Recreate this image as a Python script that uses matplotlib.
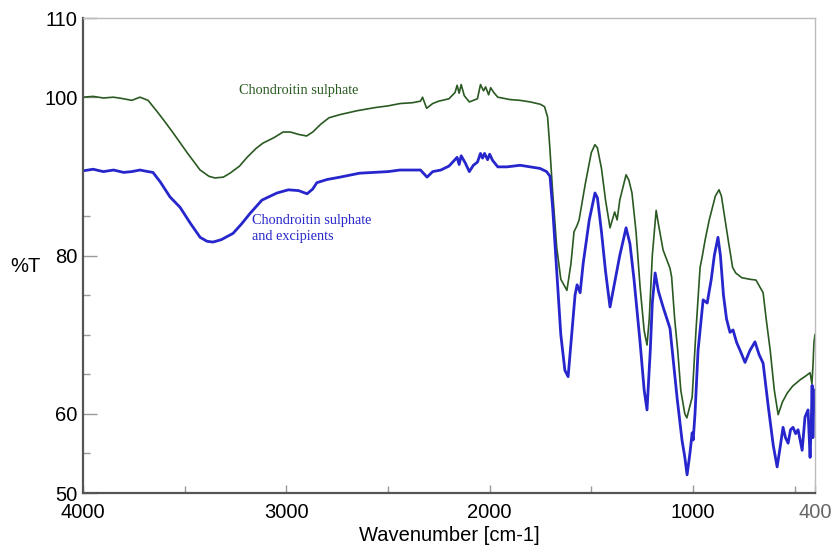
import matplotlib.pyplot as plt
from matplotlib.ticker import FixedLocator

# FTIR spectra, %T vs wavenumber
wn_cs = [4000, 3950, 3900, 3850, 3800, 3760, 3720, 3680, 3636, 3600, 3557, 3488,
         3424, 3380, 3351, 3310, 3277, 3230, 3193, 3150, 3115, 3060, 3016, 2980,
         2940, 2900, 2870, 2830, 2790, 2736, 2650, 2560, 2500, 2440, 2380, 2340,
         2330, 2310, 2280, 2250, 2200, 2170, 2160, 2150, 2140, 2125, 2100, 2080,
         2060, 2045, 2030, 2020, 2005, 1995, 1980, 1960, 1940, 1900, 1850, 1800,
         1750, 1730, 1715, 1705, 1690, 1670, 1650, 1620, 1600, 1585, 1570, 1560,
         1530, 1500, 1482, 1470, 1450, 1430, 1408, 1385, 1373, 1360, 1329, 1315,
         1300, 1280, 1260, 1240, 1226, 1215, 1200, 1181, 1170, 1147, 1113, 1105,
         1090, 1075, 1060, 1040, 1030, 1015, 1004, 985, 965, 955, 940, 920, 890,
         872, 860, 845, 827, 805, 790, 760, 720, 690, 655, 640, 620, 600, 581,
         560, 537, 510, 473, 450, 424, 415, 410, 405, 400]
t_cs = [100.0, 100.1, 99.9, 100.0, 99.8, 99.6, 100.0, 99.6, 98.2, 97.0, 95.5, 93.0,
        90.8, 90.0, 89.8, 89.9, 90.4, 91.3, 92.4, 93.5, 94.2, 94.9, 95.6, 95.6,
        95.3, 95.1, 95.6, 96.6, 97.4, 97.8, 98.3, 98.7, 98.9, 99.2, 99.3, 99.5,
        100.0, 98.6, 99.2, 99.5, 99.8, 100.6, 101.5, 100.5, 101.6, 100.2, 99.4, 99.6,
        99.8, 101.6, 100.8, 101.3, 100.3, 101.2, 100.6, 100.0, 99.9, 99.7, 99.6, 99.4,
        99.1, 98.8, 97.5, 94.0, 88.0, 81.0, 77.0, 75.6, 79.0, 83.0, 83.8, 84.5,
        89.0, 93.0, 94.0, 93.6, 91.0, 87.0, 83.5, 85.5, 84.5, 87.0, 90.2, 89.5,
        87.9, 83.0, 76.0, 70.5, 68.7, 72.0, 80.0, 85.7, 84.0, 80.7, 78.4, 77.3,
        72.0, 68.0, 63.0, 60.0, 59.5, 61.0, 62.1, 70.6, 78.5, 79.8, 82.0, 84.5, 87.5,
        88.3, 87.5, 85.0, 82.0, 78.5, 77.8, 77.2, 77.0, 76.9, 75.3, 72.0, 68.0, 63.0, 59.9,
        61.5, 62.6, 63.5, 64.3, 64.7, 65.2, 63.8, 66.0, 69.0, 70.0]

wn_exc = [4000, 3950, 3900, 3850, 3800, 3760, 3720, 3680, 3656, 3620, 3572, 3523,
          3470, 3424, 3390, 3361, 3320, 3262, 3220, 3179, 3120, 3046, 2990, 2940,
          2898, 2870, 2850, 2800, 2736, 2640, 2500, 2441, 2340, 2308, 2280, 2240,
          2200, 2175, 2160, 2150, 2140, 2120, 2100, 2080, 2060, 2045, 2035, 2025,
          2010, 2000, 1985, 1960, 1914, 1850, 1800, 1752, 1720, 1703, 1690, 1670,
          1650, 1630, 1614, 1600, 1580, 1570, 1555, 1540, 1510, 1482, 1470, 1450,
          1430, 1408, 1383, 1360, 1329, 1310, 1290, 1260, 1240, 1226, 1210, 1200,
          1186, 1170, 1147, 1113, 1078, 1054, 1040, 1029, 1015, 1004, 999, 990,
          975, 950, 930, 910, 895, 877, 865, 850, 835, 818, 803, 785, 768, 744,
          720, 695, 675, 655, 630, 605, 586, 570, 557, 545, 532, 520, 508, 495,
          483, 463, 449, 434, 424, 418, 414, 410, 405, 400]
t_exc = [90.7, 90.9, 90.6, 90.8, 90.5, 90.6, 90.8, 90.6, 90.5, 89.3, 87.4, 86.1,
         84.0, 82.3, 81.8, 81.7, 82.0, 82.8, 84.0, 85.3, 87.0, 87.9, 88.3, 88.2,
         87.8, 88.4, 89.2, 89.6, 89.9, 90.4, 90.6, 90.8, 90.8, 89.9, 90.6, 90.8,
         91.3, 92.0, 92.4, 91.5, 92.6, 91.7, 90.6, 91.4, 91.8, 92.9, 92.3, 92.9,
         92.1, 92.8, 92.0, 91.2, 91.2, 91.4, 91.2, 91.0, 90.6, 90.0, 86.0, 78.0,
         70.0, 65.5, 64.7, 69.0, 75.0, 76.3, 75.3, 79.0, 84.5, 87.9, 87.3, 83.0,
         78.0, 73.5, 76.9, 80.0, 83.5, 81.5, 77.0, 69.0, 63.0, 60.5, 68.0, 74.0,
         77.8, 75.5, 73.5, 70.8, 62.0, 56.7, 54.5, 52.3, 55.0, 57.6, 56.7, 60.0,
         68.0, 74.4, 74.0, 77.0, 80.0, 82.3, 80.0, 75.0, 72.0, 70.3, 70.6, 69.0, 68.0, 66.5,
         68.0, 69.1, 67.5, 66.4, 61.0, 56.0, 53.3, 56.0, 58.3, 57.0, 56.3, 58.0, 58.3, 57.5,
         58.0, 55.4, 59.6, 60.5, 54.5, 59.0, 63.6, 57.0, 62.0, 63.0]

y_ticks = [50, 60, 80, 100, 110]
x_ticks = [4000, 3000, 2000, 1000, 400]

green = '#2a5a22'
blue = '#2626cc'
sans = 'Liberation Sans'
serif = 'Liberation Serif'

fig = plt.figure(figsize=(8.35, 5.46), dpi=100)
ax = fig.add_axes([0.0994, 0.097, 0.8766, 0.870])

ax.plot(wn_cs, t_cs, color=green, lw=1.2)
ax.plot(wn_exc, t_exc, color=blue, lw=2.0)

ax.set_xlim(4000, 400)
ax.set_ylim(50, 110)
ax.xaxis.set_major_locator(FixedLocator(x_ticks))
ax.xaxis.set_minor_locator(FixedLocator([3500, 2500, 1500, 500]))
ax.yaxis.set_major_locator(FixedLocator(y_ticks))
ax.yaxis.set_minor_locator(FixedLocator([55, 65, 70, 75, 85]))

ax.tick_params(which='both', direction='in', color='#999999')
ax.tick_params(which='major', length=10, width=1, labelsize=14.5)
ax.tick_params(axis='x', which='major', length=6, pad=7)
ax.tick_params(axis='y', which='major', pad=4)
ax.tick_params(which='minor', length=5, width=1)
for lab in ax.get_xticklabels() + ax.get_yticklabels():
    lab.set_fontfamily(sans)
ax.get_xticklabels()[-1].set_color('#666666')

for s in ['left', 'bottom']:
    ax.spines[s].set_color('#555555')
    ax.spines[s].set_linewidth(1.6)
for s in ['top', 'right']:
    ax.spines[s].set_color('#bbbbbb')
    ax.spines[s].set_linewidth(1.0)

ax.set_xlabel('Wavenumber [cm-1]', fontsize=14.5, family=sans, labelpad=3)
fig.text(0.031, 0.511, '%T', fontsize=14.5, family=sans, va='center', ha='center')

ax.text(2938, 100.8, 'Chondroitin sulphate', color=green, fontsize=10.3,
        family=serif, ha='center', va='center')
ax.text(3169, 83.4, 'Chondroitin sulphate\nand excipients', color=blue, fontsize=10.3,
        family=serif, ha='left', va='center', linespacing=1.3)

fig.savefig('out.png', dpi=100)
